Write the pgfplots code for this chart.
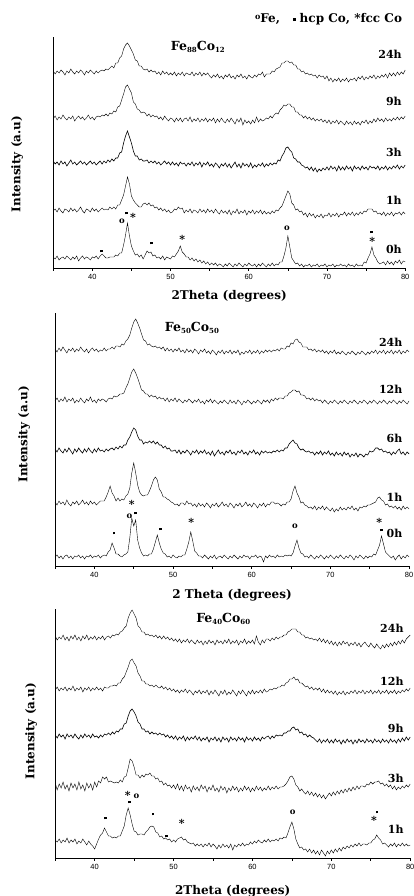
\documentclass[border=0pt]{standalone}
\usepackage{pgfplots}
\pgfplotsset{compat=1.18}
\usepackage{pgfplotstable}
\usepackage{fontspec}
\setmainfont{DejaVu Serif}
\newfontfamily\tickfont{Liberation Sans}
\newcommand\sq{\rule{2.8pt}{2.8pt}}
\newcommand\ci{{\bfseries\fontsize{8.5}{8.5}\selectfont o}}
\newcommand\astr{\raisebox{-2.2pt}{\bfseries\fontsize{11}{11}\selectfont *}}
\newcommand\lbl{\bfseries\fontsize{11}{11}\selectfont}
\newcommand\axl{\bfseries\fontsize{12}{12}\selectfont}
\newcommand\ttl{\bfseries\fontsize{12.5}{12.5}\selectfont}
\newcommand\sub[1]{\raisebox{-2.8pt}{\fontsize{7}{7}\selectfont #1}}
\tikzset{ann/.style={inner sep=0pt}}

\pgfplotstableread{
x a b c d e
35.00 11 57 107 149 197
35.25 9 59 104 152 194
35.50 12 56 106 148 197
35.75 8 60 103 151 195
36.00 10 57 107 149 198
36.25 11 55 104 153 196
36.50 9 59 106 150 193
36.75 12 58 102 148 197
37.00 10 56 105 151 195
37.25 8 60 108 149 199
37.50 11 57 104 152 196
37.75 9 59 106 147 194
38.00 12 56 103 150 197
38.25 7 58 105 152 195
38.50 10 61 107 149 198
38.75 12 57 104 151 196
39.00 9 55 106 148 193
39.25 11 59 103 150 197
39.50 10 58 105 153 195
39.75 8 56 107 149 198
40.00 11 60 104 151 196
40.25 10 57 106 148 194
40.50 12 59 103 151 197
40.75 9 56 105 152 195
41.00 12 58 107 151 197
41.25 14 60 104 153 198
41.50 12 58 107 152 197
41.75 10 59 105 154 199
42.00 10 58 108 152 198
42.25 11 61 106 155 200
42.50 11 59 109 154 202
42.75 11 61 107 157 200
43.00 13 59 110 156 205
43.25 12 63 110 161 205
43.50 15 63 115 162 210
43.75 15 68 116 168 212
44.00 23 73 125 174 219
44.25 33 82 132 181 223
44.50 45 91 137 183 225
44.75 32 84 131 179 222
45.00 22 72 125 175 218
45.25 17 68 117 166 214
45.50 13 65 112 164 208
45.75 14 63 112 159 207
46.00 11 61 108 158 202
46.25 13 61 109 155 202
46.50 9 64 107 156 199
46.75 13 65 107 155 198
47.00 17 63 108 152 199
47.25 15 65 105 154 196
47.50 16 62 107 151 198
47.75 12 63 105 153 196
48.00 13 60 107 151 197
48.25 10 61 104 152 194
48.50 11 58 106 149 196
48.75 9 60 103 151 193
49.00 12 57 105 148 197
49.25 8 59 107 152 194
49.50 11 56 104 149 196
49.75 10 58 106 147 193
50.00 9 55 103 150 195
50.25 12 56 106 149 193
50.50 11 59 103 146 196
50.75 14 58 105 150 192
51.00 17 61 102 147 195
51.25 22 59 106 150 193
51.50 16 60 104 146 196
51.75 14 55 105 149 192
52.00 11 58 102 150 195
52.25 11 56 105 147 194
52.50 8 59 103 151 193
52.75 10 55 106 146 196
53.00 7 58 102 149 192
53.25 9 57 105 147 195
53.50 6 55 103 150 193
53.75 8 59 106 146 196
54.00 5 56 101 149 192
54.25 7 58 105 147 195
54.50 4 55 103 150 193
54.75 6 59 106 146 195
55.00 3 56 102 149 192
55.25 5 58 104 147 190
55.50 3 55 101 150 193
55.75 5 59 105 145 191
56.00 2 56 103 149 194
56.25 4 54 100 146 190
56.50 3 58 104 150 192
56.75 1 55 102 147 189
57.00 4 57 105 145 193
57.25 2 54 101 149 191
57.50 5 58 104 146 194
57.75 3 53 100 150 190
58.00 1 57 103 147 192
58.25 4 55 106 144 189
58.50 2 59 101 149 193
58.75 5 54 104 146 191
59.00 3 57 100 150 194
59.25 1 55 105 143 190
59.50 4 58 102 148 192
59.75 2 53 104 145 189
60.00 5 57 101 147 193
60.25 3 55 105 144 191
60.50 2 58 100 148 190
60.75 4 54 103 145 193
61.00 1 57 101 151 191
61.25 4 55 104 146 194
61.50 2 58 102 149 193
61.75 5 54 105 147 196
62.00 3 57 101 148 191
62.25 1 54 104 150 194
62.50 4 56 102 149 194
62.75 2 54 105 152 194
63.00 5 57 103 150 197
63.25 2 55 105 153 196
63.50 4 58 104 155 199
63.75 3 57 108 154 200
64.00 6 60 107 158 201
64.25 6 62 112 160 205
64.50 12 67 115 163 205
64.75 20 72 120 162 207
65.00 32 77 121 164 207
65.25 21 74 118 164 205
65.50 10 65 116 161 206
65.75 7 63 110 161 203
66.00 4 58 109 156 203
66.25 5 59 106 156 199
66.50 2 56 106 153 199
66.75 4 57 103 153 196
67.00 1 53 102 150 197
67.25 3 55 100 152 194
67.50 2 51 101 149 195
67.75 4 55 98 151 193
68.00 1 52 101 148 194
68.25 3 54 97 150 192
68.50 2 50 100 147 193
68.75 4 53 96 149 190
69.00 1 51 99 147 193
69.25 3 54 97 149 191
69.50 2 50 100 146 192
69.75 4 53 98 148 189
70.00 1 52 101 145 192
70.25 3 55 98 148 187
70.50 2 51 102 144 190
70.75 4 54 99 147 186
71.00 1 52 101 145 189
71.25 3 55 97 148 187
71.50 2 51 102 144 190
71.75 4 54 98 147 186
72.00 2 53 101 145 189
72.25 3 56 98 143 187
72.50 1 52 102 147 190
72.75 4 55 99 144 186
73.00 2 53 101 146 189
73.25 3 56 97 143 188
73.50 1 52 102 147 190
73.75 4 55 99 144 187
74.00 2 53 101 146 191
74.25 3 56 98 143 189
74.50 2 54 102 147 192
74.75 6 57 99 145 188
75.00 5 56 101 148 191
75.25 10 59 98 144 189
75.50 14 59 102 147 192
75.75 21 59 100 145 190
76.00 13 56 101 149 193
76.25 10 57 99 146 189
76.50 6 54 102 150 192
76.75 4 55 98 147 190
77.00 5 53 101 149 193
77.25 6 56 99 146 191
77.50 3 52 102 150 194
77.75 7 55 98 147 190
78.00 4 53 101 149 195
78.25 6 56 99 147 192
78.50 3 52 102 150 195
78.75 7 55 100 148 192
79.00 5 54 103 151 196
79.25 8 56 99 148 193
79.50 4 53 102 151 196
79.75 7 56 100 149 194
80.00 6 54 103 152 198
}\tabA

\pgfplotstableread{
x a b c d e
35.00 9 64 117 165 217
35.25 11 61 114 168 214
35.50 8 65 118 164 218
35.75 10 62 115 167 215
36.00 7 64 113 165 219
36.25 10 61 117 169 216
36.50 11 66 114 164 213
36.75 8 62 118 167 217
37.00 10 60 115 165 215
37.25 7 64 112 168 218
37.50 10 62 117 163 214
37.75 9 65 114 166 217
38.00 11 61 118 164 215
38.25 8 63 115 168 219
38.50 10 66 113 165 216
38.75 7 62 117 163 214
39.00 10 64 114 167 217
39.25 9 61 118 165 213
39.50 11 65 115 169 216
39.75 8 62 113 164 218
40.00 10 64 117 166 215
40.25 9 61 114 163 217
40.50 11 63 118 167 214
40.75 8 65 115 165 216
41.00 10 65 116 167 215
41.25 11 65 114 166 218
41.50 10 69 117 164 215
41.75 14 74 115 167 217
42.00 16 80 117 168 217
42.25 23 73 118 167 219
42.50 18 70 116 170 217
42.75 12 65 119 169 220
43.00 12 68 117 170 220
43.25 10 65 120 172 219
43.50 9 67 118 172 222
43.75 11 66 121 173 221
44.00 12 70 121 178 225
44.25 14 72 126 182 227
44.50 28 78 129 188 231
44.75 48 93 134 194 238
45.00 40 103 138 197 244
45.25 46 93 136 193 247
45.50 26 81 130 188 243
45.75 18 74 126 182 238
46.00 13 71 126 176 232
46.25 10 70 122 175 226
46.50 11 71 124 172 225
46.75 10 71 123 172 221
47.00 12 75 125 169 222
47.25 12 80 123 171 220
47.50 17 86 125 169 219
47.75 24 89 122 170 220
48.00 31 86 124 167 218
48.25 23 77 121 169 219
48.50 17 74 121 167 217
48.75 13 69 118 168 219
49.00 12 69 120 165 215
49.25 9 67 117 168 218
49.50 10 66 118 164 215
49.75 8 64 115 167 217
50.00 11 63 115 165 214
50.25 9 61 116 168 217
50.50 8 62 113 164 215
50.75 10 60 116 167 218
51.00 9 63 112 165 214
51.25 11 63 115 163 216
51.50 11 61 113 166 213
51.75 17 65 116 164 217
52.00 24 62 114 167 214
52.25 34 63 111 165 216
52.50 25 60 115 163 213
52.75 15 62 113 166 217
53.00 13 59 116 164 215
53.25 10 63 112 167 212
53.50 10 60 115 163 216
53.75 8 62 113 165 214
54.00 11 59 116 162 217
54.25 9 63 112 166 213
54.50 7 61 114 164 215
54.75 10 58 111 167 212
55.00 8 62 115 163 216
55.25 11 60 110 166 214
55.50 7 63 113 164 211
55.75 9 59 116 162 215
56.00 10 61 112 165 213
56.25 8 64 114 163 216
56.50 11 60 111 166 212
56.75 9 62 115 164 215
57.00 7 59 113 162 213
57.25 10 63 116 166 216
57.50 8 61 112 163 212
57.75 11 58 114 165 215
58.00 9 62 111 162 213
58.25 7 60 115 166 216
58.50 10 63 113 164 211
58.75 8 59 116 161 214
59.00 11 61 112 165 212
59.25 9 64 114 163 215
59.50 10 60 111 166 213
59.75 7 62 115 164 216
60.00 10 59 113 162 212
60.25 9 63 116 165 215
60.50 11 61 112 163 213
60.75 8 58 114 166 216
61.00 10 62 111 164 212
61.25 9 60 115 162 215
61.50 4 63 113 166 213
61.75 10 59 115 164 216
62.00 8 62 113 166 214
62.25 11 61 114 163 216
62.50 9 64 113 167 214
62.75 10 64 115 165 216
63.00 8 62 114 168 215
63.25 11 63 116 166 217
63.50 9 62 114 168 215
63.75 10 60 116 168 218
64.00 9 62 115 167 217
64.25 11 61 118 170 217
64.50 10 64 118 170 220
64.75 11 64 122 173 219
65.00 10 67 124 174 223
65.25 13 75 126 176 222
65.50 20 80 123 176 226
65.75 26 73 122 174 227
66.00 18 69 118 175 224
66.25 13 63 116 171 223
66.50 12 64 117 171 219
66.75 9 61 115 170 219
67.00 10 60 114 167 219
67.25 8 58 115 168 216
67.50 11 59 113 166 217
67.75 9 57 114 168 215
68.00 7 60 111 165 217
68.25 10 56 114 167 214
68.50 8 59 112 165 216
68.75 11 57 115 166 214
69.00 9 60 111 163 216
69.25 7 56 114 166 213
69.50 10 59 112 164 215
69.75 8 57 115 162 212
70.00 11 55 111 165 215
70.25 9 58 113 163 213
70.50 7 54 110 166 216
70.75 10 57 114 164 212
71.00 8 55 111 162 214
71.25 11 59 113 165 212
71.50 9 56 110 163 215
71.75 7 58 114 166 213
72.00 10 56 111 164 211
72.25 8 59 113 162 214
72.50 11 57 109 165 212
72.75 9 60 112 163 215
73.00 6 56 110 166 213
73.25 10 58 113 164 211
73.50 8 55 109 162 214
73.75 11 59 112 165 212
74.00 9 58 111 163 215
74.25 7 60 109 166 213
74.50 10 59 112 164 211
74.75 8 61 111 162 214
75.00 10 61 115 165 212
75.25 9 62 114 163 215
75.50 12 63 115 166 213
75.75 11 64 118 164 216
76.00 16 68 118 162 212
76.25 21 69 116 165 215
76.50 30 66 117 163 213
76.75 22 65 114 166 216
77.00 14 61 115 164 212
77.25 12 62 113 162 215
77.50 10 59 114 165 213
77.75 8 60 111 163 216
78.00 10 58 114 166 212
78.25 6 60 112 164 215
78.50 9 57 115 162 213
78.75 11 59 117 165 216
79.00 7 56 112 163 212
79.25 10 60 114 166 215
79.50 8 57 111 164 213
79.75 11 59 114 162 216
80.00 9 57 112 165 214
}\tabB

\pgfplotstableread{
x a b c d e
35.00 18 75 123 168 222
35.25 16 68 120 171 218
35.50 19 74 124 167 221
35.75 15 70 121 170 219
36.00 18 76 123 168 223
36.25 16 69 119 171 218
36.50 20 73 124 167 221
36.75 15 67 121 170 217
37.00 18 75 123 168 222
37.25 16 70 120 172 219
37.50 19 74 124 167 223
37.75 14 68 121 170 218
38.00 17 76 119 168 221
38.25 15 69 123 171 217
38.50 19 73 120 166 222
38.75 16 67 124 170 219
39.00 13 75 121 168 223
39.25 17 70 123 171 218
39.50 14 74 120 167 221
39.75 12 68 124 170 219
40.00 9 76 121 168 222
40.25 14 71 122 171 218
40.50 19 77 120 168 221
40.75 23 75 123 170 219
41.00 25 81 121 167 222
41.25 30 79 124 171 218
41.50 26 81 123 170 221
41.75 22 76 125 170 222
42.00 22 77 123 172 220
42.25 20 76 126 172 223
42.50 21 75 124 173 222
42.75 20 76 127 172 224
43.00 22 75 126 175 223
43.25 22 78 129 175 226
43.50 27 76 129 179 227
43.75 32 81 134 181 230
44.00 43 82 135 186 232
44.25 50 90 142 191 240
44.50 43 99 147 197 245
44.75 34 97 149 199 248
45.00 27 91 146 195 244
45.25 26 83 142 192 240
45.50 23 83 136 185 232
45.75 24 80 134 182 230
46.00 24 83 129 177 226
46.25 23 81 129 177 226
46.50 26 84 126 174 223
46.75 28 83 127 174 224
47.00 31 85 124 172 222
47.25 32 82 126 173 223
47.50 31 82 124 171 221
47.75 26 79 125 173 223
48.00 25 80 123 171 220
48.25 21 76 125 170 222
48.50 22 77 123 172 219
48.75 19 73 124 169 222
49.00 20 75 121 171 219
49.25 18 72 123 168 221
49.50 19 73 120 170 218
49.75 16 70 122 167 220
50.00 18 73 119 169 217
50.25 16 69 122 166 219
50.50 19 74 118 168 216
50.75 20 68 121 165 219
51.00 21 72 119 168 215
51.25 18 67 122 166 218
51.50 19 73 117 169 216
51.75 16 69 121 165 219
52.00 15 71 118 168 215
52.25 14 66 121 166 218
52.50 15 72 119 163 216
52.75 12 68 122 167 214
53.00 14 71 118 165 218
53.25 12 67 121 168 215
53.50 14 73 117 164 217
53.75 11 69 120 167 213
54.00 14 72 118 165 217
54.25 12 66 121 168 214
54.50 15 71 116 163 218
54.75 11 68 120 167 215
55.00 14 73 118 164 217
55.25 12 67 121 168 213
55.50 9 70 117 165 218
55.75 13 66 120 162 215
56.00 10 72 116 167 217
56.25 14 68 121 164 214
56.50 11 71 118 168 218
56.75 13 65 120 163 215
57.00 10 70 116 166 219
57.25 14 67 121 164 214
57.50 8 72 118 168 217
57.75 13 68 120 165 215
58.00 11 71 117 162 218
58.25 14 66 121 167 213
58.50 12 70 118 164 217
58.75 15 67 120 168 215
59.00 12 72 116 165 219
59.25 14 68 121 162 214
59.50 13 71 118 167 217
59.75 16 66 120 164 215
60.00 14 70 117 168 218
60.25 17 67 121 164 214
60.50 15 72 118 167 222
60.75 18 68 120 165 216
61.00 16 71 117 168 213
61.25 15 67 121 165 218
61.50 18 70 119 169 215
61.75 16 68 121 166 219
62.00 19 72 122 167 219
62.25 16 68 119 169 217
62.50 18 71 122 168 220
62.75 17 69 120 170 218
63.00 19 72 123 169 221
63.25 17 69 122 171 219
63.50 20 71 123 171 221
63.75 19 71 122 173 221
64.00 21 72 125 172 223
64.25 20 74 125 175 223
64.50 25 77 127 176 226
64.75 31 81 127 179 227
65.00 36 82 130 179 229
65.25 29 79 131 181 229
65.50 19 73 128 178 229
65.75 14 71 129 179 226
66.00 10 67 125 175 226
66.25 11 69 126 175 223
66.50 8 66 123 173 223
66.75 9 64 124 171 220
67.00 6 67 121 172 221
67.25 9 63 123 169 219
67.50 5 66 121 171 220
67.75 8 62 120 168 218
68.00 4 65 118 170 219
68.25 7 61 116 168 217
68.50 3 64 119 170 220
68.75 8 60 115 166 216
69.00 5 63 118 169 219
69.25 2 59 116 165 215
69.50 7 62 119 168 218
69.75 4 65 115 165 214
70.00 8 62 118 167 217
70.25 5 66 115 164 213
70.50 9 63 119 167 216
70.75 6 67 116 163 212
71.00 10 64 118 166 216
71.25 7 68 114 164 213
71.50 11 65 118 167 217
71.75 9 69 115 163 214
72.00 12 66 119 166 216
72.25 10 70 116 164 212
72.50 13 67 118 167 215
72.75 11 71 114 165 213
73.00 14 68 118 168 216
73.25 12 72 115 164 212
73.50 15 69 119 167 215
73.75 12 72 116 165 211
74.00 14 72 118 168 214
74.25 14 71 115 164 216
74.50 13 74 119 167 213
74.75 15 73 116 165 211
75.00 15 76 118 168 215
75.25 18 74 115 164 212
75.50 19 76 119 167 210
75.75 23 76 116 165 214
76.00 20 77 118 168 211
76.25 18 74 115 164 209
76.50 14 75 119 167 213
76.75 15 72 116 165 210
77.00 13 74 118 168 214
77.25 11 71 115 164 211
77.50 14 73 119 167 215
77.75 12 69 116 165 212
78.00 15 72 118 168 216
78.25 11 68 115 164 213
78.50 14 71 119 167 217
78.75 12 69 116 165 214
79.00 15 72 120 168 218
79.25 12 70 117 166 215
79.50 14 73 121 169 219
79.75 12 71 118 167 221
80.00 13 74 121 170 223
}\tabC

\pgfplotsset{
  xrd/.style={
    scale only axis, clip=false,
    axis x line=bottom, axis y line=left,
    axis line style={-, line width=0.9pt},
    xmin=35, xmax=80, ymin=0,
    xtick={35,40,...,80}, xticklabels={,40,,50,,60,,70,,80},
    ytick=\empty,
    tick align=outside, major tick length=3pt,
    every tick/.style={black, line width=0.6pt},
    xticklabel style={font=\tickfont\fontsize{7.5}{8}\selectfont},
    cycle list={{black, mark=none, line width=0.6pt}},
  },
}

\begin{document}
\begin{tikzpicture}[x=1pt,y=1pt]
\path[use as bounding box] (0,0) rectangle (414,896);

% ---------- panel 1 ----------
\begin{axis}[xrd, at={(68,628)}, anchor=south west, width=352pt, height=231pt, ymax=231]
\addplot table[x=x,y=a]{\tabA};
\addplot table[x=x,y=b]{\tabA};
\addplot table[x=x,y=c]{\tabA};
\addplot table[x=x,y=d]{\tabA};
\addplot table[x=x,y=e]{\tabA};
\node[anchor=east,font=\lbl] at (axis cs:80,214) {24h};
\node[anchor=east,font=\lbl] at (axis cs:80,167) {9h};
\node[anchor=east,font=\lbl] at (axis cs:80,116) {3h};
\node[anchor=east,font=\lbl] at (axis cs:80,68) {1h};
\node[anchor=east,font=\lbl] at (axis cs:80,19) {0h};
\node[font=\ttl] at (axis cs:53.5,221) {Fe\sub{88}Co\sub{12}};
\node[font=\bfseries\fontsize{12}{12}\selectfont] at (axis cs:70.2,249) {\raisebox{2.5pt}{\fontsize{8}{8}\selectfont o}Fe,\ \ \ \rule[1.2pt]{3pt}{3pt} hcp Co, *fcc Co};
\node[ann] at (axis cs:41.2,17) {\sq};
\node[ann] at (axis cs:43.8,47) {\ci};
\node[ann] at (axis cs:44.4,55) {\sq};
\node[ann] at (axis cs:45.2,51) {\astr};
\node[ann] at (axis cs:47.6,25) {\sq};
\node[ann] at (axis cs:51.5,29) {\astr};
\node[ann] at (axis cs:64.9,40) {\ci};
\node[ann] at (axis cs:75.7,36) {\sq};
\node[ann] at (axis cs:75.8,27) {\astr};
\node[font=\axl] at ([yshift=-28pt]axis description cs:0.5,0) {2Theta (degrees)};
\node[font=\axl,rotate=90] at ([xshift=-36pt]axis description cs:0,0.45) {Intensity (a.u)};
\end{axis}

% ---------- panel 2 ----------
\begin{axis}[xrd, at={(70,330)}, anchor=south west, width=354pt, height=253pt, ymax=253]
\addplot table[x=x,y=a]{\tabB};
\addplot table[x=x,y=b]{\tabB};
\addplot table[x=x,y=c]{\tabB};
\addplot table[x=x,y=d]{\tabB};
\addplot table[x=x,y=e]{\tabB};
\node[anchor=east,font=\lbl] at (axis cs:79.6,224) {24h};
\node[anchor=east,font=\lbl] at (axis cs:79.6,177) {12h};
\node[anchor=east,font=\lbl] at (axis cs:79.6,128) {6h};
\node[anchor=east,font=\lbl] at (axis cs:79.6,69) {1h};
\node[anchor=east,font=\lbl] at (axis cs:79.6,33) {0h};
\node[font=\ttl] at (axis cs:52.4,238) {Fe\sub{50}Co\sub{50}};
\node[ann] at (axis cs:42.5,33) {\sq};
\node[ann] at (axis cs:44.75,62) {\astr};
\node[ann] at (axis cs:44.45,50) {\ci};
\node[ann] at (axis cs:45.25,53) {\sq};
\node[ann] at (axis cs:48.4,37) {\sq};
\node[ann] at (axis cs:52.3,44) {\astr};
\node[ann] at (axis cs:65.5,40) {\ci};
\node[ann] at (axis cs:76.2,44) {\astr};
\node[ann] at (axis cs:76.5,36) {\sq};
\node[font=\axl] at ([yshift=-29pt]axis description cs:0.5,0) {2 Theta (degrees)};
\node[font=\axl,rotate=90] at ([xshift=-31pt]axis description cs:0,0.52) {Intensity (a.u)};
\end{axis}

% ---------- panel 3 ----------
\begin{axis}[xrd, at={(70,38)}, anchor=south west, width=355pt, height=249pt, ymax=249]
\addplot table[x=x,y=a]{\tabC};
\addplot table[x=x,y=b]{\tabC};
\addplot table[x=x,y=c]{\tabC};
\addplot table[x=x,y=d]{\tabC};
\addplot table[x=x,y=e]{\tabC};
\node[anchor=east,font=\lbl] at (axis cs:79.6,230) {24h};
\node[anchor=east,font=\lbl] at (axis cs:79.6,177) {12h};
\node[anchor=east,font=\lbl] at (axis cs:79.6,130) {9h};
\node[anchor=east,font=\lbl] at (axis cs:79.6,80) {3h};
\node[anchor=east,font=\lbl] at (axis cs:79.6,29) {1h};
\node[font=\ttl] at (axis cs:56.3,239) {Fe\sub{40}Co\sub{60}};
\node[ann] at (axis cs:41.4,40) {\sq};
\node[ann] at (axis cs:44.2,63) {\astr};
\node[ann] at (axis cs:44.4,56) {\sq};
\node[ann] at (axis cs:45.3,62) {\ci};
\node[ann] at (axis cs:47.4,44) {\sq};
\node[ann] at (axis cs:49.1,22) {\sq};
\node[ann] at (axis cs:51.05,35) {\astr};
\node[ann] at (axis cs:65.1,46) {\ci};
\node[ann] at (axis cs:75.8,46) {\sq};
\node[ann] at (axis cs:75.4,38) {\astr};
\node[font=\axl] at ([yshift=-33pt]axis description cs:0.5,0) {2Theta (degrees)};
\node[font=\axl,rotate=90] at ([xshift=-24pt]axis description cs:0,0.51) {Intensity (a.u)};
\end{axis}
\end{tikzpicture}
\end{document}
